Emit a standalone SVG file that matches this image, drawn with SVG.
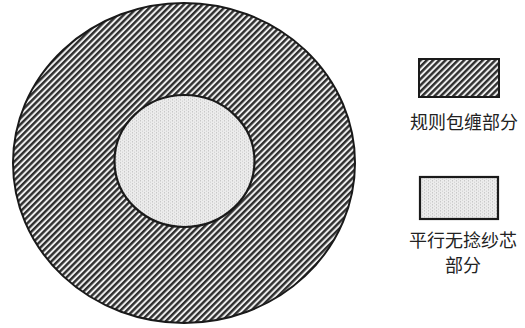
<svg xmlns="http://www.w3.org/2000/svg" width="525" height="328" viewBox="0 0 525 328">
<style>
.lbl{font-family:"Noto Sans CJK SC","Noto Sans CJK TC",sans-serif;font-size:18px;fill:#222;text-anchor:middle}
.hatch{fill:url(#hatch);stroke:#1a1a1a;stroke-width:2}
.dots{fill:url(#dots);stroke:#1a1a1a;stroke-width:2.2}
</style>
<defs>
<pattern id="hatch" width="4.4" height="4.4" patternUnits="userSpaceOnUse" patternTransform="rotate(-45)">
<rect width="4.4" height="4.4" fill="#eeeeee"/>
<rect width="4.4" height="2.4" fill="#2e2e2e"/>
</pattern>
<pattern id="dots" width="4" height="3" patternUnits="userSpaceOnUse">
<rect width="4" height="3" fill="#ececec"/>
<rect x="0" y="0" width="1" height="1.5" fill="#c8c8c8"/>
<rect x="2" y="1.5" width="1" height="1.5" fill="#d6d6d6"/>
</pattern>
</defs>
<rect width="525" height="328" fill="#fff"/>
<g id="outer"><ellipse class="hatch" cx="184" cy="163" rx="171" ry="160"/></g>
<g id="core"><ellipse class="dots" cx="184.5" cy="161" rx="70" ry="66"/></g>
<g id="legend-wrap">
<rect class="hatch" x="419" y="59" width="80" height="38"/>
<text class="lbl" x="464" y="129">规则包缠部分</text>
</g>
<g id="legend-core">
<rect class="dots" x="420" y="177" width="78" height="42"/>
<text class="lbl" x="463" y="247">平行无捻纱芯</text>
<text class="lbl" x="463" y="272">部分</text>
</g>
<g id="connectors"/>
</svg>
